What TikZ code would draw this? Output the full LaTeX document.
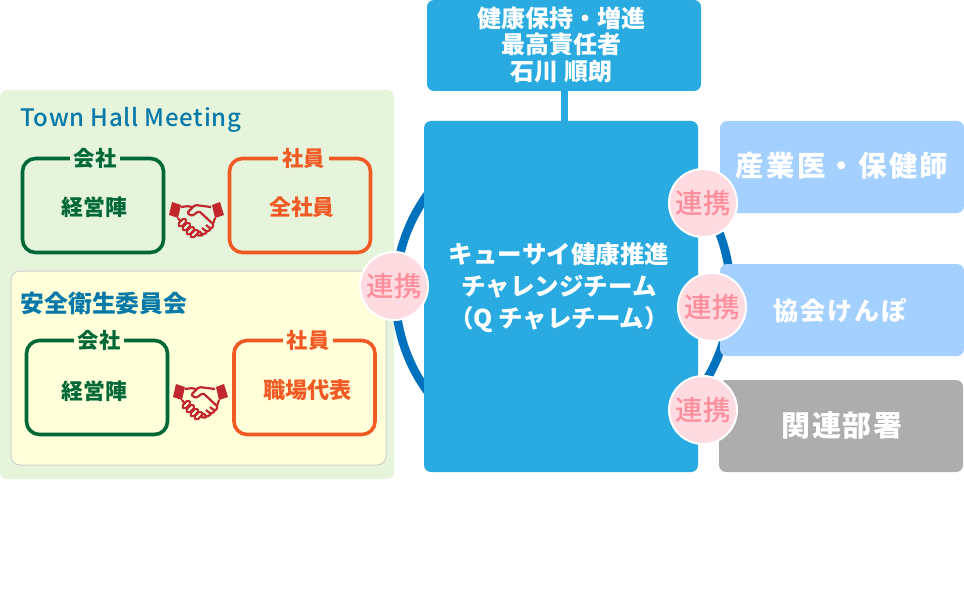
\documentclass[tikz,border=0pt]{standalone}
\usepackage{fontspec}
\setmainfont{Noto Sans CJK JP}
\newfontfamily\mediumfont{Noto Sans CJK JP Medium}
\usepackage{tikz}
\definecolor{panelgreen}{HTML}{E5F4DB}
\definecolor{panelyellow}{HTML}{FFFFD9}
\definecolor{teamblue}{HTML}{29ABE2}
\definecolor{ringblue}{HTML}{0071BC}
\definecolor{lightblue}{HTML}{A3D0FE}
\definecolor{headblue}{HTML}{0779A8}
\definecolor{darkgreen}{HTML}{006837}
\definecolor{orangeline}{HTML}{F15A24}
\definecolor{shakered}{HTML}{C1272D}
\definecolor{linkfill}{HTML}{FDDBE0}
\definecolor{linktext}{HTML}{FF8D9C}
\tikzset{
  bluebox/.style={fill=teamblue,rounded corners=7pt,inner sep=0pt},
  bluetext/.style={text=white,inner sep=0pt,align=center,font=\fontsize{24.5}{32}\selectfont\bfseries},
  sidebox/.style={fill=lightblue,rounded corners=7pt,minimum width=244pt,minimum height=92pt,inner sep=0pt},
  sidetext/.style={text=white,inner sep=0pt,font=\fontsize{28.4}{32}\selectfont\bfseries\addfontfeature{LetterSpace=8}},
  groupbox/.style={draw,line width=3.6pt,rounded corners=13pt,minimum width=141pt,minimum height=94pt,inner sep=0pt},
  grouptext/.style={inner sep=0pt,font=\fontsize{21.8}{25}\selectfont\bfseries},
  grouplabel/.style={inner xsep=4pt,inner ysep=0pt,font=\fontsize{21.3}{24}\selectfont\bfseries},
  heading/.style={text=headblue,anchor=west,inner sep=0pt},
  linkbadge/.style={circle,draw=white,line width=2pt,fill=linkfill,text=linktext,minimum size=68pt,inner sep=0pt,
    font=\fontsize{27.5}{30}\selectfont\mediumfont},
  handshake/.pic={
    \fill[shakered] (-25,-17)--(-16,-14)--(-19,-1)--(-28,-4)--cycle;
    \fill[shakered] (15,-14)--(23,-17)--(27,-4)--(18,-1)--cycle;
    \draw[shakered,line width=2.2pt,line join=round,rounded corners=1.5pt]
      (-16,-12)--(-8,-13)--(-4,-11) (14,-12)--(-2,-14)--(-10,-6)--(-5,-3)--(2,-8)--(17,6)--(14,10)--(9,6)
      (14,10)--(10,13)--(5,9) (10,13)--(6,16)--(2,12) (6,16)--(2,17)--(-1,15)
      (-19,-1)--(-16,3) (18,-1)--(16,5);
    \foreach \fx/\fy in {-15/4,-11/8,-7/12,-3/15}
      \draw[shakered,line width=2pt,rotate around={-45:(\fx,\fy)},rounded corners=1.8pt]
        (\fx-2.2,\fy-5) rectangle (\fx+2.2,\fy+4);
  }
}
\begin{document}
\begin{tikzpicture}[x=1pt,y=-1pt]
\useasboundingbox (0,0) rectangle (964,607);

\node[fill=panelgreen,rounded corners=7pt,minimum width=394pt,minimum height=389pt,inner sep=0pt] (townhall) at (197,284.5) {};
\node[heading,font=\fontsize{24}{28}\selectfont\mediumfont\addfontfeature{LetterSpace=3}] (townhalltitle) at (20,119.5) {Town Hall Meeting};
\node[draw=black!18,line width=1pt,fill=panelyellow,rounded corners=9pt,minimum width=375pt,minimum height=194pt,inner sep=0pt] (committee) at (198.5,368) {};
\node[heading,font=\fontsize{23.8}{25}\selectfont\bfseries] (committeetitle) at (20.5,303) {安全衛生委員会};

\node[groupbox,draw=darkgreen] (board1) at (93,205.5) {};
\node[grouptext,text=darkgreen] (boardtext1) at (94.5,207) {経営陣};
\node[grouplabel,fill=panelgreen,text=darkgreen] (boardlabel1) at (95,158.5) {会社};
\node[groupbox,draw=orangeline] (staff1) at (300,205.5) {};
\node[grouptext,text=orangeline] (stafftext1) at (302,207) {全社員};
\node[grouplabel,fill=panelgreen,text=orangeline] (stafflabel1) at (303.5,158.5) {社員};
\pic at (197,219) {handshake};

\node[groupbox,draw=darkgreen] (board2) at (97,387.5) {};
\node[grouptext,text=darkgreen] (boardtext2) at (94.5,391) {経営陣};
\node[grouplabel,fill=panelyellow,text=darkgreen] (boardlabel2) at (99,340) {会社};
\node[groupbox,draw=orangeline] (staff2) at (304.5,387.5) {};
\node[grouptext,text=orangeline,font=\fontsize{22.2}{25}\selectfont\bfseries] (stafftext2) at (307.5,390) {職場代表};
\node[grouplabel,fill=panelyellow,text=orangeline] (stafflabel2) at (308,340) {社員};
\pic at (201,401) {handshake};

\node[circle,draw=ringblue,line width=8.5pt,minimum size=335pt,inner sep=0pt] (ring) at (563,293) {};

\node[bluebox,minimum width=274pt,minimum height=91pt] (chief) at (564,45.5) {};
\node[bluetext,font=\fontsize{24}{26.5}\selectfont\bfseries] (chieftext) at (561.5,44.5) {健康保持・増進\\最高責任者\\石川 順朗};
\node[bluebox,minimum width=274pt,minimum height=351pt] (team) at (561,296.5) {};
\node[bluetext] (teamtext) at (559,287.5) {キューサイ健康推進\\チャレンジチーム\\（Q チャレチーム）};
\draw[teamblue,line width=7pt] (chief.south) -- (chief.south |- team.north);

\node[sidebox] (doctor) at (842,167) {};
\node[sidetext] (doctortext) at (842,166) {産業医・保健師};
\node[sidebox] (kyokai) at (842,310) {};
\node[sidetext,font=\fontsize{25.2}{30}\selectfont\bfseries\addfontfeature{LetterSpace=7}] (kyokaitext) at (840,311) {協会けんぽ};
\node[sidebox,fill=black!32] (related) at (841,426) {};
\node[sidetext,font=\fontsize{29}{32}\selectfont\bfseries\addfontfeature{LetterSpace=6}] (relatedtext) at (842,425) {関連部署};

\node[linkbadge] (link1) at (394,286) {連携};
\node[linkbadge] (link2) at (703,203) {連携};
\node[linkbadge] (link3) at (712,307) {連携};
\node[linkbadge] (link4) at (703,410) {連携};
\end{tikzpicture}
\end{document}
